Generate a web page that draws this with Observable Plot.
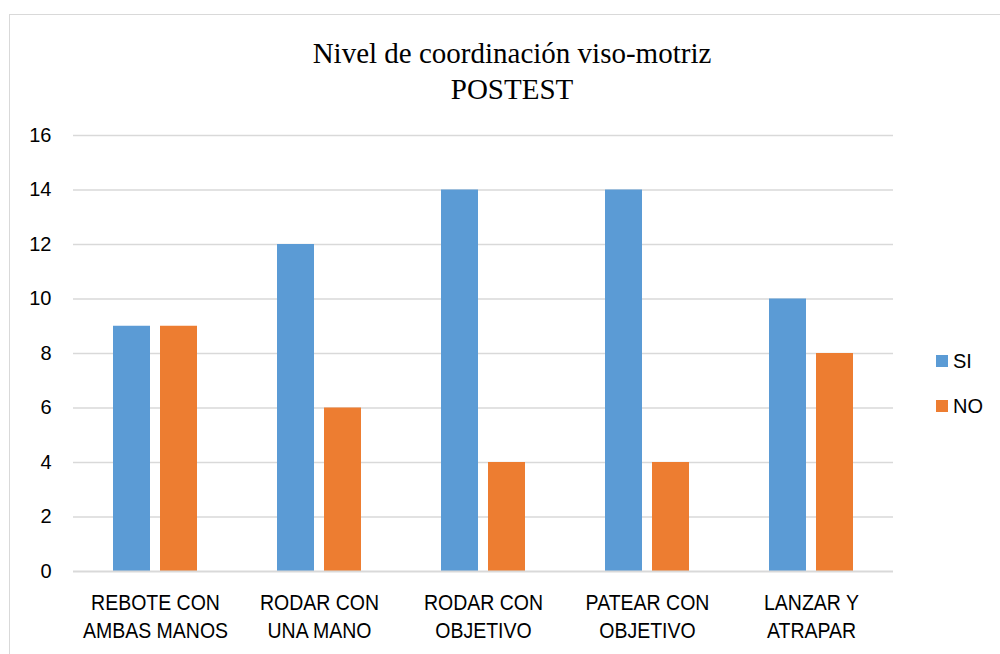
<!DOCTYPE html>
<html>
<head>
<meta charset="utf-8">
<script src="https://cdn.jsdelivr.net/npm/d3@7"></script>
<script src="https://cdn.jsdelivr.net/npm/@observablehq/plot@0.6"></script>
<style>
  html, body { margin: 0; padding: 0; background: #fff; }
  #wrap { position: relative; width: 1000px; height: 654px; overflow: hidden; }
  #frame { position: absolute; left: 9px; top: 14px; width: 1100px; height: 700px; border: 1px solid #d9d9d9; box-sizing: border-box; }
  #title { position: absolute; left: 0; top: 35px; width: 1024px; text-align: center; font-family: "Liberation Serif", "Times New Roman", serif; font-size: 29px; line-height: 36px; color: #000; }
  #chart { position: absolute; left: 0; top: 0; }
  #legend { position: absolute; left: 936px; top: 347px; font-family: "Liberation Sans", Arial, sans-serif; font-size: 20px; color: #000; }
  .item { display: flex; align-items: center; height: 28px; margin-bottom: 17px; }
  .sw { width: 12px; height: 12px; margin-right: 5px; }
</style>
</head>
<body>
<div id="wrap">
  <div id="frame"></div>
  <div id="chart"></div>
  <div id="title">Nivel de coordinación viso-motriz<br>POSTEST</div>
  <div id="legend"></div>
</div>
<script>
const categories = ["REBOTE CON\nAMBAS MANOS", "RODAR CON\nUNA MANO", "RODAR CON\nOBJETIVO", "PATEAR CON\nOBJETIVO", "LANZAR Y\nATRAPAR"];
const series = ["SI", "NO"];
const siValues = [9, 12, 14, 14, 10];
const noValues = [9, 6, 4, 4, 8];
const yTicks = [0, 2, 4, 6, 8, 10, 12, 14, 16];
const colors = ["#5b9bd5", "#ed7d31"];

const siData = categories.map((c, i) => ({category: c, value: siValues[i]}));
const noData = categories.map((c, i) => ({category: c, value: noValues[i]}));

const chart = Plot.plot({
  width: 1000,
  height: 654,
  marginLeft: 73,
  marginRight: 107,
  marginTop: 135,
  marginBottom: 83,
  style: {fontFamily: "'Liberation Sans', Arial, sans-serif", fontSize: "20px", color: "#000", background: "transparent"},
  x: {domain: categories, padding: 0, label: null},
  y: {domain: [0, 16], ticks: yTicks, label: null},
  marks: [
    Plot.ruleY(yTicks.filter(d => d > 0), {stroke: "#d9d9d9", strokeWidth: 1.5}),
    Plot.barY(siData, {x: "category", y: "value", fill: colors[0], insetLeft: 40, insetRight: 87}),
    Plot.barY(noData, {x: "category", y: "value", fill: colors[1], insetLeft: 87, insetRight: 40}),
    Plot.ruleY([0], {stroke: "#d9d9d9", strokeWidth: 2}),
    Plot.axisY({ticks: yTicks, tickSize: 0, tickPadding: 22, fontSize: 20, label: null}),
    Plot.axisX({tickSize: 0, tickPadding: 16, lineHeight: 1.25, fontSize: 19.5, label: null})
  ]
});
chart.querySelectorAll("text").forEach(t => t.setAttribute("fill", "#000"));
// stretch x tick labels vertically to mimic the taller reference glyphs
const xg = chart.querySelector('g[aria-label="x-axis tick label"]');
if (xg) {
  const ns = "http://www.w3.org/2000/svg";
  const w = document.createElementNS(ns, "g");
  w.setAttribute("transform", "translate(0,571) scale(1,1.15) translate(0,-571)");
  xg.parentNode.insertBefore(w, xg);
  w.appendChild(xg);
}
document.getElementById("chart").appendChild(chart);

const legend = document.getElementById("legend");
series.forEach((s, i) => {
  const item = document.createElement("div");
  item.className = "item";
  item.innerHTML = `<div class="sw" style="background:${colors[i]}"></div><span>${s}</span>`;
  legend.appendChild(item);
});
</script>
</body>
</html>
